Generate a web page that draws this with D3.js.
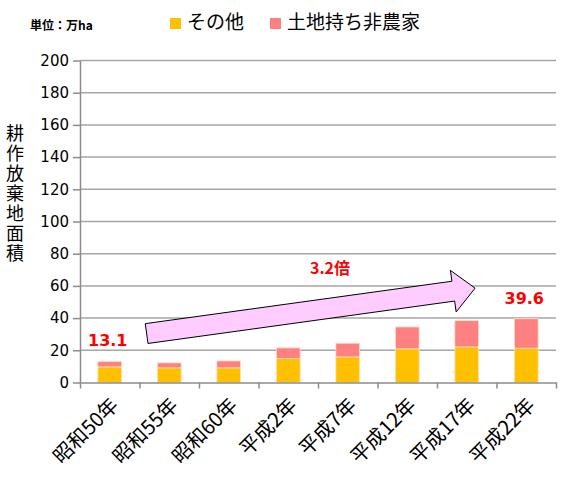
<!DOCTYPE html>
<html>
<head>
<meta charset="utf-8">
<script src="https://cdn.jsdelivr.net/npm/d3@7"></script>
<style>
body { margin: 0; background: #fff; }
text { font-family: "Noto Sans CJK JP", sans-serif; }
.num { font-family: "DejaVu Sans", sans-serif; }
</style>
</head>
<body>
<div class="chart"></div>
<script>
// データ (単位: 万ha)
const years = ['昭和50年', '昭和55年', '昭和60年', '平成2年', '平成7年', '平成12年', '平成17年', '平成22年'];
const sonota = [9.7, 9.1, 9.1, 14.9, 15.9, 20.9, 22.1, 21.3];
const hinoka = [3.4, 3.1, 4.3, 6.6, 8.5, 13.6, 16.3, 18.3];
const yTicks = [0, 20, 40, 60, 80, 100, 120, 140, 160, 180, 200];
const seriesNames = ['その他', '土地持ち非農家'];
const colors = ['#FFC000', '#FF8080'];
const noteLabels = ['13.1', '39.6', '3.2倍'];

const rows = years.map((y, i) => ({ year: y, その他: sonota[i], 土地持ち非農家: hinoka[i] }));

const W = 570, H = 483;
const plot = { left: 80, right: 556, top: 60.5, bottom: 382.5 };

const svg = d3.select('.chart').append('svg').attr('width', W).attr('height', H);

const y = d3.scaleLinear().domain([0, 200]).range([plot.bottom, plot.top]);
const x = d3.scaleBand().domain(years).range([plot.left, plot.right])
            .paddingInner(0.6).paddingOuter(0.3);
// カテゴリ境界の目盛り用
const xEdge = d3.scaleLinear().domain([0, years.length]).range([plot.left, plot.right]);

// 格線
svg.append('g').selectAll('line')
   .data(yTicks.filter(d => d > 0)).enter()
   .append('line')
   .attr('x1', plot.left).attr('x2', plot.right)
   .attr('y1', d => y(d)).attr('y2', d => y(d))
   .style('stroke', '#a6a6a6').style('stroke-width', 1.5);

// 積み上げ棒
const stacked = d3.stack().keys(seriesNames)(rows);
svg.append('g').selectAll('g')
   .data(stacked).enter()
   .append('g').style('fill', (d, i) => colors[i])
   .selectAll('rect')
   .data(d => d).enter()
   .append('rect')
   .attr('x', d => x(d.data.year))
   .attr('width', x.bandwidth())
   .attr('y', d => y(d[1]))
   .attr('height', d => y(d[0]) - y(d[1]))
   .style('stroke', '#ffe3c0').style('stroke-width', 0.8);

// Y軸
const yAxis = d3.axisLeft(y).tickValues(yTicks).tickSizeInner(7).tickSizeOuter(0).tickPadding(4);
const yAxisDraw = svg.append('g')
   .attr('transform', `translate(${plot.left},0)`)
   .call(yAxis);
yAxisDraw.select('.domain').style('stroke', '#8c8c8c').style('stroke-width', 1.5);
yAxisDraw.selectAll('.tick line').style('stroke', '#8c8c8c').style('stroke-width', 1.5);
yAxisDraw.selectAll('text').attr('class', 'num')
   .style('font-size', '15px').style('fill', '#000');

// X軸 (境界に目盛り)
const xAxis = d3.axisBottom(xEdge).tickValues(d3.range(0, years.length + 1))
   .tickFormat('').tickSizeInner(6).tickSizeOuter(0);
const xAxisDraw = svg.append('g')
   .attr('transform', `translate(0,${plot.bottom})`)
   .call(xAxis);
xAxisDraw.select('.domain').style('stroke', '#8c8c8c').style('stroke-width', 1.5);
xAxisDraw.selectAll('.tick line').style('stroke', '#8c8c8c').style('stroke-width', 1.5);

// X軸ラベル (斜め)
svg.append('g').selectAll('text')
   .data(years).enter()
   .append('text')
   .attr('transform', d => `translate(${x(d) + x.bandwidth() / 2 + 10},${plot.bottom + 24}) rotate(-45)`)
   .style('text-anchor', 'end')
   .style('font-size', '20px').style('fill', '#000')
   .text(d => d);

// Y軸タイトル (縦書き)
svg.append('text')
   .attr('x', 15).attr('y', 124)
   .style('writing-mode', 'vertical-rl')
   .style('letter-spacing', '2px')
   .style('font-size', '18px').style('fill', '#000')
   .text('耕作放棄地面積');

// 単位
svg.append('text').attr('x', 30).attr('y', 30)
   .style('font-size', '12px').style('font-weight', 'bold')
   .text('単位：万ha');

// 凡例
const legendX = [170, 270];
const legend = svg.append('g').selectAll('g')
   .data(seriesNames).enter()
   .append('g')
   .attr('transform', (d, i) => `translate(${legendX[i]},0)`);
legend.append('rect').attr('x', 0).attr('y', 18).attr('width', 11).attr('height', 11)
   .style('fill', (d, i) => colors[i]);
legend.append('text').attr('x', 17).attr('y', 29)
   .style('font-size', '19px').style('fill', '#000')
   .text(d => d);

// 矢印 (データ座標から)
const arrowFrom = { i: 1.12, v: 30.4 };
const arrowTo = { i: 6.64, v: 58.6 };
const p0 = [xEdge(arrowFrom.i), y(arrowFrom.v)];
const p1 = [xEdge(arrowTo.i), y(arrowTo.v)];
const dx = p1[0] - p0[0], dy = p1[1] - p0[1];
const len = Math.hypot(dx, dy);
const ux = dx / len, uy = dy / len, nx = -uy, ny = ux;
const shaftW = 10, headW = 21, headL = 22;
const hb = [p1[0] - ux * headL, p1[1] - uy * headL];
const pts = [
  [p0[0] + nx * shaftW, p0[1] + ny * shaftW],
  [hb[0] + nx * shaftW, hb[1] + ny * shaftW],
  [hb[0] + nx * headW, hb[1] + ny * headW],
  p1,
  [hb[0] - nx * headW, hb[1] - ny * headW],
  [hb[0] - nx * shaftW, hb[1] - ny * shaftW],
  [p0[0] - nx * shaftW, p0[1] - ny * shaftW]
];
svg.append('path')
   .attr('d', d3.line()(pts) + 'Z')
   .style('fill', '#ffccff').style('stroke', '#000').style('stroke-width', 1);

// 注記
const total = sonota.map((v, i) => v + hinoka[i]);
const notes = [
  { text: noteLabels[0], cx: x(years[0]) + x.bandwidth() / 2 - 2, yv: total[0], off: 15 },
  { text: noteLabels[1], cx: x(years[7]) + x.bandwidth() / 2 - 2, yv: total[7], off: 15 }
];
svg.append('g').selectAll('text')
   .data(notes).enter()
   .append('text').attr('class', 'num')
   .attr('x', d => d.cx).attr('y', d => y(d.yv) - d.off)
   .style('text-anchor', 'middle')
   .style('font-size', '16px').style('font-weight', 'bold').style('fill', '#ff0000')
   .text(d => d.text);

svg.append('text')
   .attr('x', 330).attr('y', y(67.5))
   .style('text-anchor', 'middle')
   .style('font-size', '16px').style('font-weight', 'bold').style('fill', '#ff0000')
   .text(noteLabels[2]);
</script>
</body>
</html>
